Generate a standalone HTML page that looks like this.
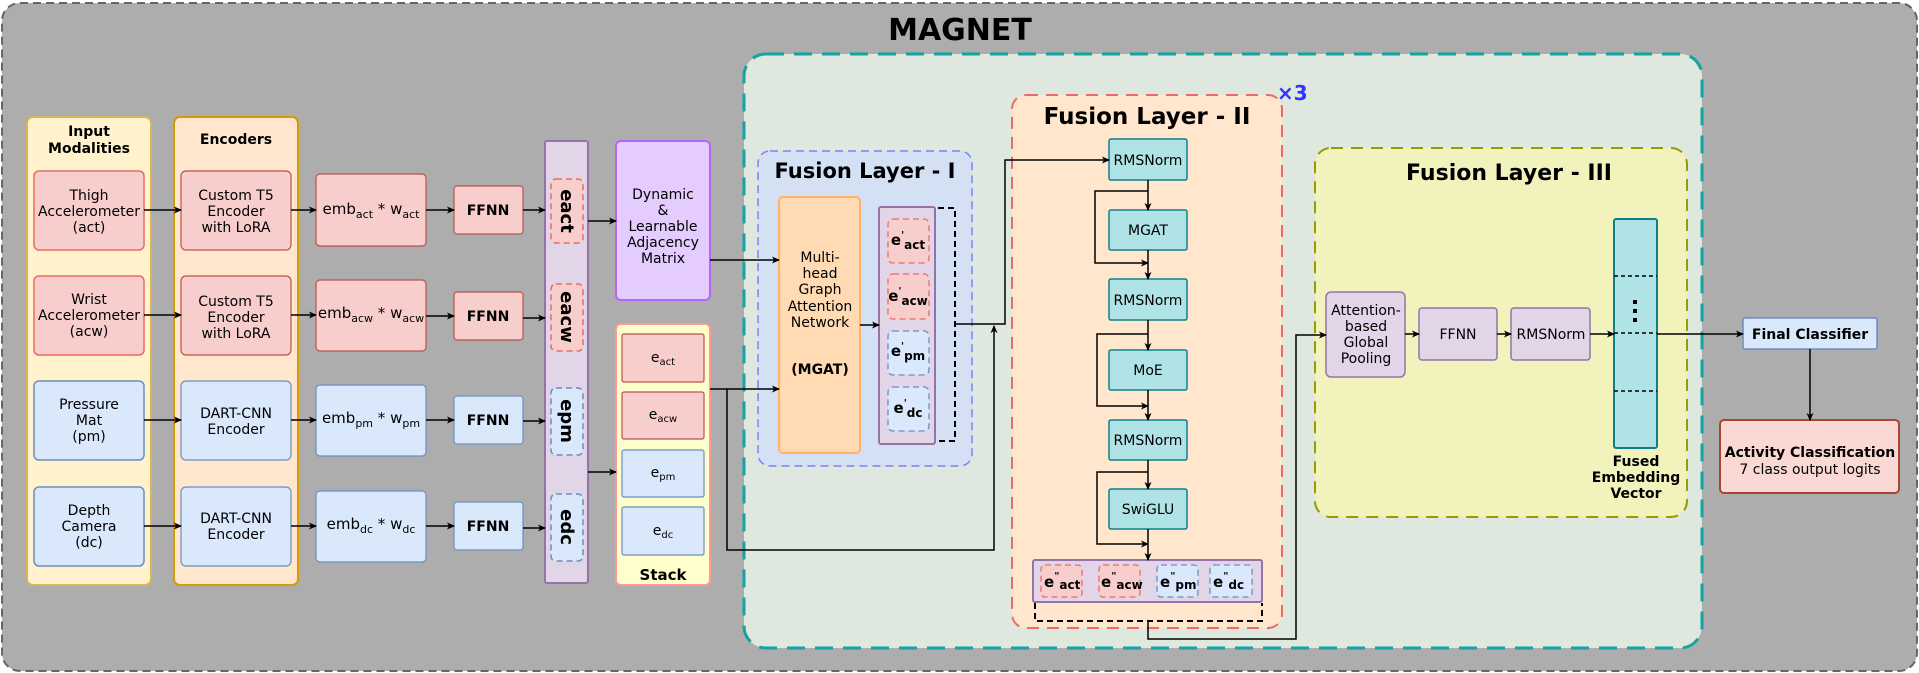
<!DOCTYPE html>
<html><head><meta charset="utf-8"><style>
html,body{margin:0;padding:0;background:#fff;}
svg{display:block;font-family:"DejaVu Sans","Liberation Sans",sans-serif;}
</style></head><body>
<svg width="1919" height="673" viewBox="0 0 1919 673" xmlns="http://www.w3.org/2000/svg">
<defs>
<marker id="a" markerWidth="8" markerHeight="8" refX="7" refY="4" orient="auto" markerUnits="userSpaceOnUse"><path d="M0,0.5 L8,4 L0,7.5 L2,4 Z" fill="#000"/></marker>
</defs>
<rect x="2" y="3" width="1915" height="668" rx="18" fill="#adadad" stroke="#666" stroke-width="2" stroke-dasharray="8 5"/>
<text x="960" y="40" font-size="30" font-weight="bold" text-anchor="middle">MAGNET</text>

<rect x="27" y="117" width="124" height="468" rx="6" fill="#fff2cc" stroke="#d6b656" stroke-width="2"/>
<text x="89" y="136" font-size="14" font-weight="bold" text-anchor="middle">Input</text>
<text x="89" y="153" font-size="14" font-weight="bold" text-anchor="middle">Modalities</text>
<g font-size="14" text-anchor="middle">
<rect x="34" y="171" width="110" height="79" rx="5" fill="#f8cecc" stroke="#ea6b66" stroke-width="1.5"/>
<text x="89" y="200">Thigh</text><text x="89" y="216">Accelerometer</text><text x="89" y="232">(act)</text>
<rect x="34" y="276" width="110" height="79" rx="5" fill="#f8cecc" stroke="#ea6b66" stroke-width="1.5"/>
<text x="89" y="304">Wrist</text><text x="89" y="320">Accelerometer</text><text x="89" y="336">(acw)</text>
<rect x="34" y="381" width="110" height="79" rx="5" fill="#dae8fc" stroke="#6c8ebf" stroke-width="1.5"/>
<text x="89" y="409">Pressure</text><text x="89" y="425">Mat</text><text x="89" y="441">(pm)</text>
<rect x="34" y="487" width="110" height="79" rx="5" fill="#dae8fc" stroke="#6c8ebf" stroke-width="1.5"/>
<text x="89" y="515">Depth</text><text x="89" y="531">Camera</text><text x="89" y="547">(dc)</text>
</g>

<rect x="174" y="117" width="124" height="468" rx="6" fill="#ffe6cc" stroke="#d79b00" stroke-width="2"/>
<text x="236" y="144" font-size="14" font-weight="bold" text-anchor="middle">Encoders</text>
<g font-size="14" text-anchor="middle">
<rect x="181" y="171" width="110" height="79" rx="5" fill="#f8cecc" stroke="#b85450" stroke-width="1.2"/>
<text x="236" y="200">Custom T5</text><text x="236" y="216">Encoder</text><text x="236" y="232">with LoRA</text>
<rect x="181" y="276" width="110" height="79" rx="5" fill="#f8cecc" stroke="#b85450" stroke-width="1.2"/>
<text x="236" y="306">Custom T5</text><text x="236" y="322">Encoder</text><text x="236" y="338">with LoRA</text>
<rect x="181" y="381" width="110" height="79" rx="5" fill="#dae8fc" stroke="#6c8ebf" stroke-width="1.2"/>
<text x="236" y="418">DART-CNN</text><text x="236" y="434">Encoder</text>
<rect x="181" y="487" width="110" height="79" rx="5" fill="#dae8fc" stroke="#6c8ebf" stroke-width="1.2"/>
<text x="236" y="523">DART-CNN</text><text x="236" y="539">Encoder</text>
</g>

<g font-size="15" text-anchor="middle">
<rect x="316" y="174" width="110" height="72" rx="4" fill="#f8cecc" stroke="#b85450" stroke-width="1.2"/>
<text x="371" y="214">emb<tspan font-size="11" dy="4">act</tspan><tspan dy="-4"> * w</tspan><tspan font-size="11" dy="4">act</tspan></text>
<rect x="316" y="280" width="110" height="71" rx="4" fill="#f8cecc" stroke="#b85450" stroke-width="1.2"/>
<text x="371" y="318">emb<tspan font-size="11" dy="4">acw</tspan><tspan dy="-4"> * w</tspan><tspan font-size="11" dy="4">acw</tspan></text>
<rect x="316" y="385" width="110" height="71" rx="4" fill="#dae8fc" stroke="#6c8ebf" stroke-width="1.2"/>
<text x="371" y="423">emb<tspan font-size="11" dy="4">pm</tspan><tspan dy="-4"> * w</tspan><tspan font-size="11" dy="4">pm</tspan></text>
<rect x="316" y="491" width="110" height="71" rx="4" fill="#dae8fc" stroke="#6c8ebf" stroke-width="1.2"/>
<text x="371" y="529">emb<tspan font-size="11" dy="4">dc</tspan><tspan dy="-4"> * w</tspan><tspan font-size="11" dy="4">dc</tspan></text>
</g>

<g font-size="14" font-weight="bold" text-anchor="middle">
<rect x="454" y="186" width="69" height="48" rx="3" fill="#f8cecc" stroke="#b85450" stroke-width="1.2"/><text x="488" y="215">FFNN</text>
<rect x="454" y="292" width="69" height="48" rx="3" fill="#f8cecc" stroke="#b85450" stroke-width="1.2"/><text x="488" y="321">FFNN</text>
<rect x="454" y="396" width="69" height="48" rx="3" fill="#dae8fc" stroke="#6c8ebf" stroke-width="1.2"/><text x="488" y="425">FFNN</text>
<rect x="454" y="502" width="69" height="48" rx="3" fill="#dae8fc" stroke="#6c8ebf" stroke-width="1.2"/><text x="488" y="531">FFNN</text>
</g>

<rect x="545" y="141" width="43" height="442" rx="2" fill="#e1d5e7" stroke="#9673a6" stroke-width="2"/>
<g stroke-dasharray="6 4" stroke-width="1.5">
<rect x="551" y="179" width="32" height="64" rx="5" fill="#f8cecc" stroke="#ea6b66"/>
<rect x="551" y="284" width="32" height="67" rx="5" fill="#f8cecc" stroke="#ea6b66"/>
<rect x="551" y="388" width="32" height="67" rx="5" fill="#dae8fc" stroke="#6c8ebf"/>
<rect x="551" y="494" width="32" height="67" rx="5" fill="#dae8fc" stroke="#6c8ebf"/>
</g>
<g font-size="18" font-weight="bold" text-anchor="middle">
<text transform="translate(561,211) rotate(90)">eact</text>
<text transform="translate(561,317) rotate(90)">eacw</text>
<text transform="translate(561,421) rotate(90)">epm</text>
<text transform="translate(561,527) rotate(90)">edc</text>
</g>

<rect x="616" y="141" width="94" height="159" rx="5" fill="#e5ccff" stroke="#b266ff" stroke-width="2"/>
<g font-size="14" text-anchor="middle">
<text x="663" y="199">Dynamic</text><text x="663" y="215">&amp;</text><text x="663" y="231">Learnable</text><text x="663" y="247">Adjacency</text><text x="663" y="263">Matrix</text>
</g>

<rect x="616" y="324" width="94" height="261" rx="5" fill="#ffffcc" stroke="#ff9999" stroke-width="2"/>
<g font-size="14" text-anchor="middle">
<rect x="622" y="334" width="82" height="48" rx="2" fill="#f8cecc" stroke="#b85450" stroke-width="1.2"/>
<text x="663" y="362">e<tspan font-size="10" dy="3">act</tspan></text>
<rect x="622" y="392" width="82" height="47" rx="2" fill="#f8cecc" stroke="#b85450" stroke-width="1.2"/>
<text x="663" y="419">e<tspan font-size="10" dy="3">acw</tspan></text>
<rect x="622" y="450" width="82" height="47" rx="2" fill="#dae8fc" stroke="#6c8ebf" stroke-width="1.2"/>
<text x="663" y="477">e<tspan font-size="10" dy="3">pm</tspan></text>
<rect x="622" y="507" width="82" height="48" rx="2" fill="#dae8fc" stroke="#6c8ebf" stroke-width="1.2"/>
<text x="663" y="535">e<tspan font-size="10" dy="3">dc</tspan></text>
</g>
<text x="663" y="580" font-size="15" font-weight="bold" text-anchor="middle">Stack</text>

<rect x="744" y="54" width="958" height="594" rx="22" fill="#dfe8df" stroke="#13a4a4" stroke-width="3" stroke-dasharray="18 10"/>
<text x="1277" y="100" font-size="20" font-weight="bold" fill="#3333ff">×3</text>

<rect x="758" y="151" width="214" height="315" rx="12" fill="#d4e1f5" stroke="#7f7fff" stroke-width="1.5" stroke-dasharray="8 5"/>
<text x="865" y="178" font-size="21" font-weight="bold" text-anchor="middle">Fusion Layer - I</text>
<rect x="779" y="197" width="81" height="256" rx="4" fill="#ffdab3" stroke="#ffb366" stroke-width="2"/>
<g font-size="14" text-anchor="middle">
<text x="820" y="262">Multi-</text><text x="820" y="278">head</text><text x="820" y="294">Graph</text><text x="820" y="311">Attention</text><text x="820" y="327">Network</text>
<text x="820" y="374" font-weight="bold">(MGAT)</text>
</g>
<rect x="879" y="207" width="56" height="237" rx="2" fill="#e1d5e7" stroke="#9673a6" stroke-width="2"/>
<g stroke-dasharray="6 4" stroke-width="1.3">
<rect x="888" y="219" width="41" height="44" rx="5" fill="#f8cecc" stroke="#ea6b66"/>
<rect x="888" y="274" width="41" height="45" rx="5" fill="#f8cecc" stroke="#ea6b66"/>
<rect x="888" y="331" width="41" height="44" rx="5" fill="#dae8fc" stroke="#6c8ebf"/>
<rect x="888" y="387" width="41" height="44" rx="5" fill="#dae8fc" stroke="#6c8ebf"/>
</g>
<g font-size="15" font-weight="bold" text-anchor="middle">
<text x="908" y="245">e<tspan font-size="10" dy="-7">'</tspan><tspan font-size="12" dy="11">act</tspan></text>
<text x="908" y="301">e<tspan font-size="10" dy="-7">'</tspan><tspan font-size="12" dy="11">acw</tspan></text>
<text x="908" y="356">e<tspan font-size="10" dy="-7">'</tspan><tspan font-size="12" dy="11">pm</tspan></text>
<text x="908" y="413">e<tspan font-size="10" dy="-7">'</tspan><tspan font-size="12" dy="11">dc</tspan></text>
</g>
<path d="M938,208 H955 V441 H938" fill="none" stroke="#000" stroke-width="2" stroke-dasharray="6 4"/>

<rect x="1012" y="95" width="270" height="533" rx="14" fill="#ffe6cc" stroke="#ea6b66" stroke-width="2" stroke-dasharray="12 8"/>
<text x="1147" y="124" font-size="23" font-weight="bold" text-anchor="middle">Fusion Layer - II</text>
<g font-size="14" text-anchor="middle">
<rect x="1109" y="139" width="78" height="41" rx="2" fill="#b0e3e6" stroke="#0e8088" stroke-width="1.5"/><text x="1148" y="165">RMSNorm</text>
<rect x="1109" y="210" width="78" height="40" rx="2" fill="#b0e3e6" stroke="#0e8088" stroke-width="1.5"/><text x="1148" y="235">MGAT</text>
<rect x="1109" y="279" width="78" height="41" rx="2" fill="#b0e3e6" stroke="#0e8088" stroke-width="1.5"/><text x="1148" y="305">RMSNorm</text>
<rect x="1109" y="350" width="78" height="40" rx="2" fill="#b0e3e6" stroke="#0e8088" stroke-width="1.5"/><text x="1148" y="375">MoE</text>
<rect x="1109" y="420" width="78" height="40" rx="2" fill="#b0e3e6" stroke="#0e8088" stroke-width="1.5"/><text x="1148" y="445">RMSNorm</text>
<rect x="1109" y="489" width="78" height="40" rx="2" fill="#b0e3e6" stroke="#0e8088" stroke-width="1.5"/><text x="1148" y="514">SwiGLU</text>
</g>
<rect x="1033" y="560" width="229" height="42" rx="2" fill="#e1d5e7" stroke="#9673a6" stroke-width="2"/>
<g stroke-dasharray="6 4" stroke-width="1.3">
<rect x="1041" y="565" width="41" height="32" rx="4" fill="#f8cecc" stroke="#ea6b66"/>
<rect x="1099" y="565" width="41" height="32" rx="4" fill="#f8cecc" stroke="#ea6b66"/>
<rect x="1157" y="565" width="41" height="32" rx="4" fill="#dae8fc" stroke="#6c8ebf"/>
<rect x="1210" y="565" width="42" height="32" rx="4" fill="#dae8fc" stroke="#6c8ebf"/>
</g>
<g font-size="15" font-weight="bold">
<text x="1044" y="587">e<tspan font-size="10" dy="-8">"</tspan><tspan font-size="12" dy="10">act</tspan></text>
<text x="1101" y="587">e<tspan font-size="10" dy="-8">"</tspan><tspan font-size="12" dy="10">acw</tspan></text>
<text x="1160" y="587">e<tspan font-size="10" dy="-8">"</tspan><tspan font-size="12" dy="10">pm</tspan></text>
<text x="1213" y="587">e<tspan font-size="10" dy="-8">"</tspan><tspan font-size="12" dy="10">dc</tspan></text>
</g>
<path d="M1035,603 V621 H1262 V603" fill="none" stroke="#000" stroke-width="2" stroke-dasharray="6 4"/>

<rect x="1315" y="148" width="372" height="369" rx="16" fill="#f2f2bd" stroke="#999900" stroke-width="2" stroke-dasharray="12 8"/>
<text x="1509" y="180" font-size="22" font-weight="bold" text-anchor="middle">Fusion Layer - III</text>
<g font-size="14" text-anchor="middle">
<rect x="1326" y="292" width="79" height="85" rx="5" fill="#e1d5e7" stroke="#9673a6" stroke-width="1.5"/>
<text x="1366" y="315">Attention-</text><text x="1366" y="331">based</text><text x="1366" y="347">Global</text><text x="1366" y="363">Pooling</text>
<rect x="1419" y="308" width="78" height="52" rx="3" fill="#e1d5e7" stroke="#9673a6" stroke-width="1.5"/><text x="1458" y="339">FFNN</text>
<rect x="1511" y="308" width="79" height="52" rx="3" fill="#e1d5e7" stroke="#9673a6" stroke-width="1.5"/><text x="1551" y="339">RMSNorm</text>
</g>
<rect x="1614" y="219" width="43" height="229" rx="2" fill="#b0e3e6" stroke="#0e8088" stroke-width="2"/>
<g stroke="#000" stroke-width="1.5" stroke-dasharray="4 3">
<line x1="1614" y1="276" x2="1657" y2="276"/><line x1="1614" y1="333" x2="1657" y2="333"/><line x1="1614" y1="391" x2="1657" y2="391"/>
</g>
<g fill="#000"><rect x="1633" y="300" width="4" height="4"/><rect x="1633" y="309" width="4" height="4"/><rect x="1633" y="318" width="4" height="4"/></g>
<g font-size="14" font-weight="bold" text-anchor="middle">
<text x="1636" y="466">Fused</text><text x="1636" y="482">Embedding</text><text x="1636" y="498">Vector</text>
</g>

<rect x="1743" y="318" width="134" height="31" rx="2" fill="#dae8fc" stroke="#6c8ebf" stroke-width="1.5"/>
<text x="1810" y="339" font-size="14" font-weight="bold" text-anchor="middle">Final Classifier</text>
<rect x="1720" y="420" width="179" height="73" rx="4" fill="#fad9d5" stroke="#ae4132" stroke-width="2"/>
<text x="1810" y="457" font-size="14" font-weight="bold" text-anchor="middle">Activity Classification</text>
<text x="1810" y="474" font-size="14" text-anchor="middle">7 class output logits</text>

<g fill="none" stroke="#000" stroke-width="1.5" marker-end="url(#a)">
<line x1="144" y1="210" x2="181" y2="210"/><line x1="144" y1="315" x2="181" y2="315"/>
<line x1="144" y1="420" x2="181" y2="420"/><line x1="144" y1="526" x2="181" y2="526"/>
<line x1="291" y1="210" x2="316" y2="210"/><line x1="291" y1="315" x2="316" y2="315"/>
<line x1="291" y1="420" x2="316" y2="420"/><line x1="291" y1="526" x2="316" y2="526"/>
<line x1="426" y1="210" x2="454" y2="210"/><line x1="426" y1="316" x2="454" y2="316"/>
<line x1="426" y1="420" x2="454" y2="420"/><line x1="426" y1="526" x2="454" y2="526"/>
<line x1="523" y1="210" x2="545" y2="210"/><line x1="523" y1="318" x2="545" y2="318"/>
<line x1="523" y1="421" x2="545" y2="421"/><line x1="523" y1="528" x2="545" y2="528"/>
<line x1="588" y1="221" x2="616" y2="221"/><line x1="588" y1="472" x2="616" y2="472"/>
<line x1="710" y1="260" x2="779" y2="260"/>
<line x1="710" y1="389" x2="779" y2="389"/>
<path d="M727,389 V550 H994 V326"/>
<line x1="860" y1="325" x2="879" y2="325"/>
<path d="M955,324 H1005 V160 H1109"/>
<line x1="1148" y1="180" x2="1148" y2="210"/>
<path d="M1148,191 H1095 V263 H1148"/>
<line x1="1148" y1="250" x2="1148" y2="279"/>
<line x1="1148" y1="320" x2="1148" y2="350"/>
<path d="M1148,334 H1097 V406 H1148"/>
<line x1="1148" y1="390" x2="1148" y2="420"/>
<line x1="1148" y1="460" x2="1148" y2="489"/>
<path d="M1148,472 H1097 V544 H1148"/>
<line x1="1148" y1="529" x2="1148" y2="560"/>
<path d="M1148,621 V639 H1296 V335 H1326"/>
<line x1="1405" y1="334" x2="1419" y2="334"/>
<line x1="1497" y1="334" x2="1511" y2="334"/>
<line x1="1590" y1="334" x2="1614" y2="334"/>
<line x1="1657" y1="334" x2="1743" y2="334"/>
<line x1="1810" y1="349" x2="1810" y2="420"/>
</g>
</svg>
</body></html>
